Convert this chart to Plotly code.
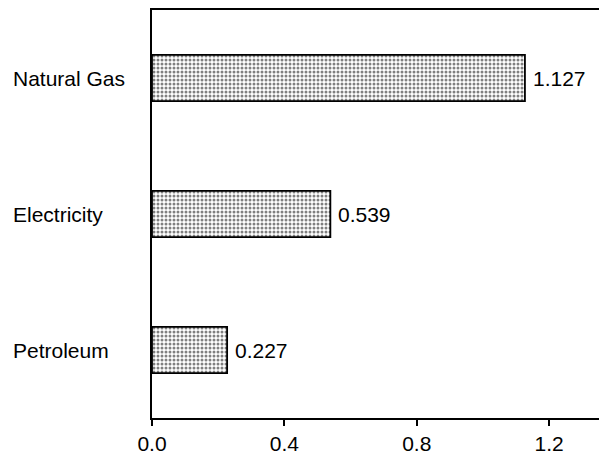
import plotly.graph_objects as go

# data
sources = ["Natural Gas", "Electricity", "Petroleum"]
values = [1.127, 0.539, 0.227]
tick_vals = [0.0, 0.4, 0.8, 1.2]
tick_text = ["0.0", "0.4", "0.8", "1.2"]

FONT = "Liberation Sans, Arial, Helvetica, sans-serif"
# page body has an 8px margin, so the figure is drawn 8px in from the top-left
W, H = 599, 449
L, R, T, B = 144, 0, 0, 39

bars = go.Bar(
    x=values,
    y=sources,
    orientation="h",
    width=0.34,
    marker=dict(
        color="white",
        line=dict(color="black", width=1.8),
        pattern=dict(shape=".", size=4, solidity=0.45,
                     fgcolor="black", bgcolor="white"),
    ),
)

fig = go.Figure(bars)

plot_w = W - L - R
# category labels, left aligned at the left of the page
for s in sources:
    fig.add_annotation(
        x=(3 - L) / plot_w, xref="paper", xanchor="left",
        y=s, yref="y", yanchor="middle",
        text=s, showarrow=False,
        font=dict(family=FONT, size=21, color="black"),
    )

# value labels just right of each bar
for s, v in zip(sources, values):
    fig.add_annotation(
        x=v, xref="x", xanchor="left", xshift=6,
        y=s, yref="y", yanchor="middle",
        text=f"{v:.3f}", showarrow=False,
        font=dict(family=FONT, size=21, color="black"),
    )

fig.update_layout(
    width=W, height=H,
    margin=dict(l=L, r=R, t=T, b=B),
    paper_bgcolor="white",
    plot_bgcolor="white",
    showlegend=False,
    font=dict(family=FONT, size=21, color="black"),
    xaxis=dict(
        range=[0, 1.375],
        tickvals=tick_vals,
        ticktext=tick_text,
        ticks="outside",
        ticklen=6,
        tickwidth=1.8,
        tickcolor="black",
        showline=True,
        linecolor="black",
        linewidth=1.8,
        mirror=True,
        showgrid=False,
        zeroline=False,
        tickfont=dict(family=FONT, size=21, color="black"),
    ),
    yaxis=dict(
        categoryorder="array",
        categoryarray=sources,
        range=[2.5, -0.5],
        showline=True,
        linecolor="black",
        linewidth=1.8,
        showticklabels=False,
        ticks="",
        showgrid=False,
        zeroline=False,
    ),
)

fig.write_html("out.html")
